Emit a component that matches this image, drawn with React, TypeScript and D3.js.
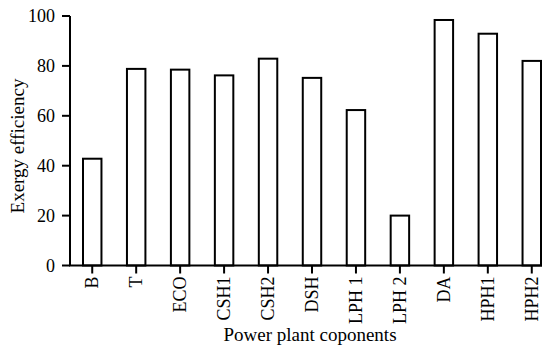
import * as d3 from "d3";

// ── Data — exergy efficiency per component ───────────────────
const COMPONENTS = ["B", "T", "ECO", "CSH1", "CSH2", "DSH", "LPH 1", "LPH 2", "DA", "HPH1", "HPH2"];
const EFFICIENCY = [42.8, 78.8, 78.5, 76.2, 82.9, 75.2, 62.3, 20.0, 98.4, 92.9, 82.0];
const Y_TICKS = [0, 20, 40, 60, 80, 100];

// ── Geometry ─────────────────────────────────────────────────
const W = 550;
const H = 347;
const AXIS_X = 70;
const AXIS_Y = 265.5;
const RIGHT = 541;
const TOP = 16;
const FONT = "'Liberation Serif', 'Times New Roman', serif";

export default function App() {
  const x = d3.scaleBand<string>()
    .domain(COMPONENTS)
    .range([83, RIGHT])
    .paddingInner(0.58)
    .paddingOuter(0);
  const y = d3.scaleLinear().domain([0, 100]).range([AXIS_Y, TOP]);

  const rows = COMPONENTS.map((c, i) => ({ c, v: EFFICIENCY[i] }));

  return (
    <svg width={W} height={H} style={{ position: "absolute", left: 0, top: 0 }}
      fontFamily={FONT}>
      <rect width={W} height={H} fill="#fff" />

      {/* Bars — white fill, black outline */}
      {rows.map((d) => (
        <rect key={d.c}
          x={x(d.c)} y={y(d.v)}
          width={x.bandwidth()} height={AXIS_Y - y(d.v)}
          fill="#fff" stroke="#000" strokeWidth={2} />
      ))}

      {/* Y axis */}
      <line x1={AXIS_X} x2={AXIS_X} y1={y(100)} y2={AXIS_Y} stroke="#000" strokeWidth={2} />
      {Y_TICKS.map((t) => (
        <g key={t}>
          <line x1={AXIS_X - 8} x2={AXIS_X} y1={y(t)} y2={y(t)} stroke="#000" strokeWidth={2} />
          <text x={AXIS_X - 15} y={y(t)} dy="0.34em" textAnchor="end" fontSize={18} fill="#000">
            {t}
          </text>
        </g>
      ))}

      {/* X axis */}
      <line x1={AXIS_X - 1} x2={RIGHT + 1} y1={AXIS_Y} y2={AXIS_Y} stroke="#000" strokeWidth={2} />
      {COMPONENTS.map((c) => {
        const cx = (x(c) ?? 0) + x.bandwidth() / 2;
        return (
          <g key={c}>
            <line x1={cx} x2={cx} y1={AXIS_Y} y2={AXIS_Y + 8} stroke="#000" strokeWidth={2} />
            <text transform={`translate(${cx},${AXIS_Y + 11}) rotate(-90)`}
              dy="0.34em" textAnchor="end" fontSize={18} fill="#000">
              {c}
            </text>
          </g>
        );
      })}

      {/* Axis titles */}
      <text x={310} y={341} textAnchor="middle" fontSize={19} fill="#000">
        Power plant coponents
      </text>
      <text transform={`translate(24,146) rotate(-90)`} textAnchor="middle" fontSize={19} fill="#000">
        Exergy efficiency
      </text>
    </svg>
  );
}
